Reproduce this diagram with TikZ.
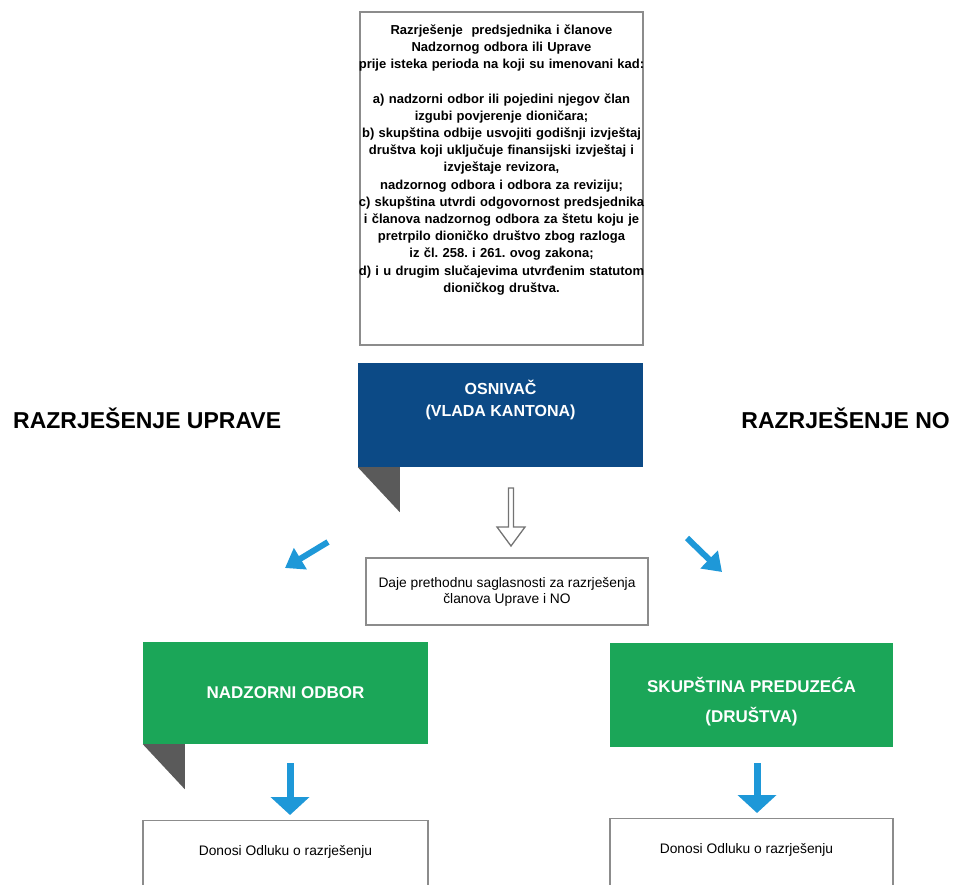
\documentclass[tikz,border=0pt]{standalone}
\usepackage{fontspec}
\setmainfont{Liberation Sans}
\usepackage{tikz}
\usetikzlibrary{positioning}
\usetikzlibrary{arrows.meta}
\definecolor{tamnoplava}{RGB}{12,74,134}
\definecolor{zelena}{RGB}{27,166,88}
\definecolor{siva}{RGB}{90,90,90}
\definecolor{okvirsiva}{RGB}{140,140,140}
\definecolor{plava}{RGB}{30,152,216}
\frenchspacing

\begin{document}
\begin{tikzpicture}[x=1pt,y=-1pt]
    \tikzstyle{okvir}=[rectangle, draw=okvirsiva, line width=1.2pt, inner sep=0pt]
    \tikzstyle{osnivacbox}=[rectangle, fill=tamnoplava, inner sep=0pt]
    \tikzstyle{zelenibox}=[rectangle, fill=zelena, inner sep=0pt]
    \tikzstyle{bijelitekst}=[text=white, font=\bfseries\fontsize{17}{30}\selectfont, align=center, inner sep=0pt]
    \tikzstyle{sitnitekst}=[font=\bfseries\fontsize{13}{17.2}\selectfont, align=center, text width=300pt, inner sep=0pt]
    \tikzstyle{tekst}=[font=\fontsize{13.8}{16}\selectfont, align=center, inner sep=0pt]
    \tikzstyle{naslov}=[font=\bfseries\fontsize{23}{28}\selectfont, inner sep=0pt]
    \tikzstyle{zastavica}=[fill=siva]
    \tikzstyle{supljastrelica}=[draw=siva!85, line width=1.3pt, fill=white]
    \tikzstyle{plavastrelica}=[draw=plava, line width=7pt, -{Triangle[width=38pt,length=18pt]}]
    \tikzstyle{kosastrelica}=[draw=plava, line width=6pt, -{Triangle[width=24pt,length=18pt]}]
    \useasboundingbox (0,0) rectangle (956,885);
    \clip (0,0) rectangle (956,885);
    % uvjeti za razrjesenje
    \node[okvir, minimum width=283pt, minimum height=333pt] (uvjeti) at (501.5,178.5) {};
    \node[sitnitekst, below=13pt of uvjeti.north] (uvjetitekst) {Razrješenje\ \ predsjednika i članove\\
      Nadzornog odbora ili Uprave\\
      prije isteka perioda na koji su imenovani kad:\\[17.2pt]
      a) nadzorni odbor ili pojedini njegov član\\
      izgubi povjerenje dioničara;\\
      b) skupština odbije usvojiti godišnji izvještaj\\
      društva koji uključuje finansijski izvještaj i\\
      izvještaje revizora,\\
      nadzornog odbora i odbora za reviziju;\\
      c) skupština utvrdi odgovornost predsjednika\\
      i članova nadzornog odbora za štetu koju je\\
      pretrpilo dioničko društvo zbog razloga\\
      iz čl. 258. i 261. ovog zakona;\\
      d) i u drugim slučajevima utvrđenim statutom\\
      dioničkog društva.};
    % osnivac
    \node[osnivacbox, minimum width=285pt, minimum height=104pt] (osnivac) at (500.5,415) {};
    \node[bijelitekst, font=\bfseries\fontsize{16}{22}\selectfont, below=17pt of osnivac.north] (osnivactekst) {OSNIVAČ\\(VLADA KANTONA)};
    \fill[zastavica] (osnivac.south west) -- ++(42,0) -- ++(0,45) -- cycle;
    \node[naslov, anchor=base west] (naslovuprave) at (13,428) {RAZRJEŠENJE UPRAVE};
    \node[naslov, anchor=base east] (naslovno) at (950,428) {RAZRJEŠENJE NO};
    % saglasnost
    \node[okvir, tekst, minimum width=282pt, minimum height=67pt] (daje) at (507,591.5) {Daje prethodnu saglasnosti za razrješenja\\članova Uprave i NO};
    \coordinate (suplja) at (511,488);
    \draw[supljastrelica] (suplja) ++(-2.5,0) -- ++(5,0) -- ++(0,39) -- ++(11.5,0) -- ++(-14,19) -- ++(-14,-19) -- ++(11.5,0) -- cycle;
    \coordinate (lijevorep) at (328,542);
    \coordinate (lijevovrh) at (285,568);
    \coordinate (desnorep) at (687,538);
    \coordinate (desnovrh) at (722,572);
    \draw[kosastrelica] (lijevorep) -- (lijevovrh);
    \draw[kosastrelica] (desnorep) -- (desnovrh);
    % nadzorni odbor
    \node[zelenibox, minimum width=285pt, minimum height=102pt] (nadzor) at (285.5,693) {};
    \node[bijelitekst] (nadzortekst) at (nadzor.center) {NADZORNI ODBOR};
    \fill[zastavica] (nadzor.south west) -- ++(42,0) -- ++(0,45) -- cycle;
    % skupstina
    \node[zelenibox, minimum width=283pt, minimum height=104pt] (skupstina) at (751.5,695) {};
    \node[bijelitekst] (skupstinatekst) at ([yshift=-7pt]skupstina.center) {SKUPŠTINA PREDUZEĆA\\(DRUŠTVA)};
    % odluke
    \node[okvir, minimum width=285pt, minimum height=80pt, anchor=north] (donosil) at (285.5,820) {};
    \node[tekst, below=25pt of donosil.north] (donosiltekst) {Donosi Odluku o razrješenju};
    \node[okvir, minimum width=283pt, minimum height=80pt, anchor=north] (donosid) at (751.5,818) {};
    \node[tekst, below=25pt of donosid.north, xshift=-5pt] (donosidtekst) {Donosi Odluku o razrješenju};
    \draw[plavastrelica, shorten <=19pt, shorten >=5pt] ([xshift=4.5pt]nadzor.south) -- ([xshift=4.5pt]donosil.north);
    \draw[plavastrelica, shorten <=16pt, shorten >=5pt] ([xshift=5.5pt]skupstina.south) -- ([xshift=5.5pt]donosid.north);
\end{tikzpicture}
\end{document}
